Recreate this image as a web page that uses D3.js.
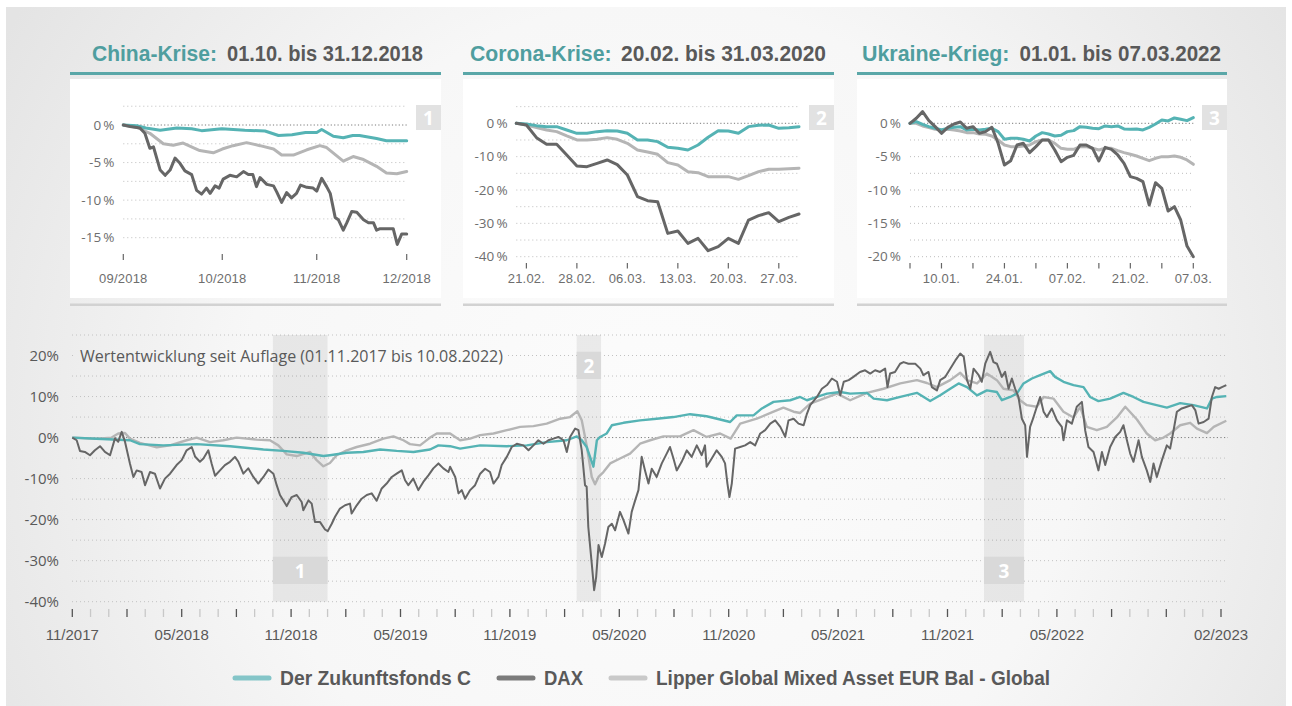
<!DOCTYPE html>
<html><head><meta charset="utf-8">
<script src="https://cdn.jsdelivr.net/npm/d3@7"></script>
<style>body{margin:0;background:#fff}svg{display:block}</style>
</head><body>
<svg id="c" width="1292" height="706"></svg>
<script>
// ---------------- DATA ----------------
const seriesNames = ["Der Zukunftsfonds C", "DAX", "Lipper Global Mixed Asset EUR Bal - Global"];

// Main chart: [months since 01.11.2017, performance %]
const mainFonds = [[0,0],[1.33,-0.3],[3.16,-0.65],[3.71,-1.6],[4.99,-1.9],[6.82,-1.6],[8.65,-2.1],[10.48,-2.9],[11.57,-3.25],[12.67,-3.7],[13.77,-4.5],[14.13,-4.3],[15.05,-3.7],[15.96,-3.5],[16.88,-2.9],[17.79,-3.25],[18.71,-3.5],[19.62,-2.9],[20.08,-1.9],[20.72,-2.1],[21.27,-2.7],[22.37,-1.9],[23.83,-2.1],[24.93,-1.9],[26.02,-1.1],[27.12,-0.65],[27.67,0.3],[27.94,-0.65],[28.21,-2.3],[28.49,-5.9],[28.58,-7.1],[28.77,-0.65],[28.95,0.15],[29.31,1.0],[29.59,3.0],[30.23,3.6],[31.14,4.2],[32.05,4.6],[32.97,5.0],[33.88,5.7],[34.79,5.2],[35.53,4.4],[36.08,3.8],[36.44,5.4],[37.36,5.4],[37.82,7.1],[38.46,8.7],[39.37,9.1],[39.92,9.9],[40.29,9.1],[40.84,9.9],[41.39,10.7],[42.12,11.1],[42.66,10.7],[43.58,10.9],[43.95,9.5],[44.68,9.1],[45.41,9.9],[46.32,10.9],[47.05,8.9],[47.6,10.3],[48.15,11.9],[48.61,13.2],[49.07,12.3],[49.62,10.3],[50.16,11.5],[50.71,11.1],[50.98,9.1],[51.44,9.9],[51.8,10.7],[52.17,13.2],[52.63,14.4],[53.08,15.2],[53.63,16.2],[53.9,14.8],[54.36,13.6],[54.91,12.8],[55.46,12.3],[55.82,9.9],[56.28,8.9],[56.92,9.5],[57.65,10.9],[58.2,9.9],[58.75,8.7],[59.3,8.1],[60.03,7.3],[60.76,8.4],[61.49,7.9],[62.23,7.1],[62.5,9.5],[62.78,9.9],[63.29,10.1]];

const mainDax = [[0,0],[0.24,-0.65],[0.42,-3.25],[0.69,-3.5],[0.97,-4.3],[1.24,-3.1],[1.52,-2.1],[1.79,-3.5],[2.07,-4.3],[2.34,-0.2],[2.52,-1.0],[2.71,1.4],[2.89,-1.0],[3.16,-6.3],[3.35,-9.6],[3.53,-8.0],[3.8,-8.4],[3.99,-11.6],[4.26,-8.4],[4.53,-8.8],[4.81,-12.4],[5.08,-10.0],[5.36,-8.8],[5.72,-6.7],[6.0,-5.5],[6.27,-3.1],[6.55,-2.3],[6.73,-4.6],[7.0,-5.9],[7.19,-5.1],[7.46,-3.1],[7.64,-6.3],[7.83,-9.3],[8.1,-8.0],[8.37,-6.7],[8.65,-5.9],[8.92,-4.7],[9.11,-5.9],[9.38,-8.8],[9.65,-7.5],[9.93,-9.6],[10.2,-11.2],[10.48,-9.6],[10.75,-7.8],[11.03,-8.8],[11.21,-11.6],[11.39,-14.0],[11.76,-16.7],[12.03,-14.5],[12.31,-14.0],[12.58,-15.7],[12.67,-17.7],[12.95,-15.3],[13.13,-16.1],[13.31,-20.6],[13.59,-20.6],[13.86,-22.4],[14.01,-22.8],[14.23,-21.0],[14.41,-19.3],[14.68,-17.3],[14.96,-16.5],[15.23,-16.1],[15.32,-18.5],[15.6,-16.5],[15.87,-14.9],[16.15,-14.0],[16.42,-13.6],[16.69,-15.4],[16.97,-12.4],[17.24,-11.2],[17.52,-9.6],[17.79,-8.8],[18.07,-8.0],[18.25,-10.4],[18.43,-11.6],[18.7,-10.0],[18.98,-12.8],[19.25,-10.8],[19.53,-9.2],[19.8,-7.5],[20.08,-6.3],[20.35,-7.5],[20.63,-8.4],[20.72,-7.1],[21.0,-9.6],[21.18,-13.6],[21.36,-12.8],[21.54,-14.9],[21.82,-12.8],[22.09,-11.6],[22.37,-8.8],[22.64,-7.6],[22.91,-8.4],[23.1,-11.2],[23.37,-9.6],[23.55,-6.7],[23.83,-4.7],[24.1,-2.3],[24.38,-1.5],[24.74,-1.9],[25.02,-3.1],[25.29,-1.9],[25.56,-0.65],[25.84,-1.5],[26.11,-0.65],[26.39,-0.25],[26.66,0.15],[26.94,-0.65],[27.12,-3.5],[27.3,0.15],[27.58,2.2],[27.76,1.8],[27.94,-3.1],[28.12,-11.6],[28.21,-12.0],[28.3,-21.8],[28.49,-30.7],[28.62,-37.2],[28.73,-34.0],[28.86,-26.2],[29.04,-29.1],[29.22,-25.8],[29.4,-21.8],[29.59,-21.0],[29.77,-22.6],[30.04,-18.1],[30.23,-20.1],[30.5,-23.4],[30.68,-18.1],[30.87,-15.3],[31.05,-12.8],[31.23,-4.7],[31.41,-8.0],[31.6,-11.2],[31.78,-7.6],[32.05,-9.6],[32.33,-6.3],[32.6,-3.9],[32.78,-2.3],[32.97,-5.1],[33.15,-8.0],[33.42,-5.9],[33.7,-3.1],[33.97,-4.7],[34.25,-1.9],[34.52,-4.3],[34.7,-1.9],[34.79,-7.1],[35.07,-5.1],[35.34,-3.1],[35.62,-4.7],[35.8,-6.3],[35.93,-11.2],[36.04,-14.5],[36.17,-11.2],[36.35,-2.7],[36.63,-2.3],[36.9,-1.9],[37.18,-1.1],[37.45,-1.9],[37.73,1.0],[38.0,1.8],[38.28,3.4],[38.55,4.2],[38.83,2.6],[39.1,0.2],[39.28,4.2],[39.56,4.6],[39.83,3.4],[40.11,3.0],[40.29,5.8],[40.47,7.9],[40.84,9.9],[41.11,11.9],[41.39,12.8],[41.66,14.4],[41.94,13.6],[42.12,10.3],[42.31,13.6],[42.58,14.0],[42.84,14.8],[43.2,16.0],[43.48,16.4],[43.76,15.6],[44.03,16.4],[44.3,16.0],[44.58,16.8],[44.71,12.3],[44.85,15.6],[45.12,16.0],[45.4,18.0],[45.59,18.4],[45.86,18.0],[46.23,18.0],[46.51,16.8],[46.68,15.2],[46.96,16.0],[47.14,12.3],[47.42,11.5],[47.6,14.0],[47.88,14.8],[48.15,16.8],[48.43,18.8],[48.7,20.5],[48.89,19.7],[49.07,14.0],[49.25,11.9],[49.43,16.8],[49.71,15.2],[49.88,13.6],[50.07,18.0],[50.34,20.9],[50.52,18.4],[50.71,18.0],[50.98,14.8],[51.16,16.0],[51.35,11.9],[51.53,14.4],[51.71,11.9],[51.89,9.9],[52.08,4.6],[52.26,3.0],[52.36,-4.7],[52.53,2.6],[52.72,5.0],[52.9,7.5],[53.08,9.9],[53.27,6.3],[53.45,5.0],[53.72,7.1],[54.0,4.2],[54.27,2.6],[54.36,-0.65],[54.55,4.2],[54.82,3.4],[55.09,7.5],[55.37,8.7],[55.55,1.8],[55.73,-2.3],[56.01,-3.5],[56.28,-8.0],[56.47,-3.5],[56.65,-6.7],[56.92,-2.3],[57.2,0.15],[57.47,1.4],[57.65,3.0],[57.84,-0.65],[58.02,-3.9],[58.2,-5.9],[58.48,-0.65],[58.66,-4.7],[58.93,-8.0],[59.12,-10.8],[59.3,-6.3],[59.48,-9.6],[59.76,-5.5],[60.03,-1.9],[60.21,-2.7],[60.4,1.8],[60.58,6.3],[60.85,7.1],[61.13,7.5],[61.4,7.9],[61.59,6.7],[61.77,3.4],[62.05,3.8],[62.32,4.6],[62.5,9.9],[62.68,12.3],[62.87,11.9],[63.05,12.3],[63.29,12.8]];

const mainLipper = [[0,0],[1.33,-0.3],[2.16,0],[2.52,1.0],[2.89,1.1],[3.16,-0.25],[3.71,-1.3],[4.63,-2.4],[5.36,-1.9],[6.27,-0.65],[6.82,0],[7.55,-1.1],[8.28,-0.65],[9.01,0],[10.11,-0.5],[10.84,-0.65],[11.3,-1.9],[11.76,-4.1],[12.31,-4.5],[13.04,-3.5],[13.4,-5.5],[13.77,-7.0],[14.13,-6.2],[14.5,-4.3],[15.05,-3.1],[15.6,-2.3],[16.33,-1.5],[17.06,-0.25],[17.61,0.3],[18.16,-0.65],[18.52,-1.6],[19.07,-1.9],[19.62,0],[19.99,1.0],[20.72,1.0],[21.27,-0.65],[21.82,-0.25],[22.37,0.6],[23.1,1.0],[23.83,1.8],[24.56,2.6],[25.29,2.8],[26.02,3.4],[26.76,4.6],[27.3,5.0],[27.7,6.4],[27.94,4.2],[28.21,-1.9],[28.49,-9.6],[28.67,-11.4],[28.86,-9.6],[29.13,-8.4],[29.5,-6.3],[30.04,-5.1],[30.59,-3.9],[31.14,-1.5],[31.69,-0.65],[32.42,0.3],[33.33,0.3],[34.07,1.8],[34.79,0.15],[35.53,1.0],[36.11,-0.25],[36.63,3.4],[37.54,4.6],[38.46,6.3],[39.0,7.3],[39.56,6.3],[39.92,6.0],[40.47,8.3],[41.2,9.5],[41.94,10.7],[42.66,9.1],[43.58,10.9],[44.49,11.9],[45.41,13.2],[46.32,14.0],[46.87,13.3],[47.42,12.3],[48.15,14.0],[48.7,15.8],[49.07,14.0],[49.62,13.2],[50.16,15.6],[50.71,14.0],[51.07,11.9],[51.62,11.5],[51.98,9.1],[52.35,7.9],[52.9,7.5],[53.27,9.9],[53.81,9.5],[54.36,6.3],[54.91,4.9],[55.28,7.5],[55.64,2.6],[56.19,1.8],[56.74,2.6],[57.29,4.9],[57.75,7.5],[58.39,4.4],[58.93,1.0],[59.39,-0.65],[59.85,0],[60.21,1.0],[60.76,3.0],[61.31,3.6],[61.68,2.2],[62.23,1.1],[62.6,2.6],[63.29,4.1]];

const mainYTicks = [20, 10, 0, -10, -20, -30, -40];
const mainXLabels = ["11/2017","05/2018","11/2018","05/2019","11/2019","05/2020","11/2020","05/2021","11/2021","05/2022","02/2023"];
const mainXLabelMonths = [0, 6, 12, 18, 24, 30, 36, 42, 48, 54, 63];
const crisisNumbers = ["1", "2", "3"];
const crisisStart = [11, 27.66, 50];   // 01.10.2018, 20.02.2020, 01.01.2022
const crisisEnd = [14, 29, 52.2];      // 31.12.2018, 31.03.2020, 07.03.2022

// Panel 1: China-Krise  [trading day, %]
const chinaFonds = [[0,0],[3,-0.1],[5,-0.4],[8.2,-0.7],[11.9,-0.4],[15.2,-0.5],[17.4,-0.75],[21.9,-0.5],[27,-0.7],[31.5,-0.8],[34.5,-1.4],[37.5,-1.3],[40.5,-1.0],[43,-1.0],[44.1,-0.6],[46.7,-1.5],[48.9,-1.7],[51,-1.4],[52.5,-1.4],[56.3,-1.8],[58.5,-2.1],[63,-2.1]];
const chinaDax = [[0,0],[1.5,-0.2],[3.7,-0.4],[4.8,-1.1],[5.9,-3.1],[6.7,-2.9],[8.2,-6.0],[9.3,-6.7],[10.4,-6.0],[11.5,-4.4],[12.6,-5.1],[13.7,-6.1],[15.2,-6.6],[16.3,-8.7],[17.4,-9.2],[18.5,-8.4],[19.3,-9.1],[20.4,-8.1],[21.3,-8.4],[22.2,-7.2],[23.7,-6.7],[25.2,-6.9],[26.7,-6.2],[27.8,-6.6],[28.8,-6.6],[29.6,-8.2],[30.4,-7.0],[31.9,-7.9],[33.4,-8.1],[34.1,-8.9],[35.2,-10.3],[36.3,-9.0],[37.4,-9.7],[38.5,-9.1],[39.4,-8.0],[40.8,-8.3],[42.2,-8.4],[43,-8.8],[44.1,-7.1],[45.2,-8.2],[46,-9.1],[47.1,-12.3],[47.8,-12.6],[48.9,-14.0],[49.7,-13.0],[50.8,-11.5],[51.9,-11.6],[53.4,-12.6],[54.5,-13.0],[55.6,-13.0],[56.3,-14.0],[57.1,-13.8],[60,-13.8],[60.9,-15.9],[61.9,-14.5],[63,-14.5]];
const chinaLipper = [[0,0],[3,-0.3],[5.9,-1.1],[8.9,-2.5],[11.1,-2.7],[13.3,-2.4],[17,-3.4],[20,-3.7],[22,-3.2],[24.4,-2.75],[27.4,-2.35],[30.4,-2.75],[33.4,-3.2],[35.2,-4.0],[37.8,-4.0],[40.8,-3.3],[43.7,-2.75],[45.2,-3.0],[48.9,-4.8],[51.1,-4.2],[53.4,-4.6],[56.3,-5.5],[58.5,-6.4],[60.8,-6.5],[63,-6.2]];
const chinaXLabels = ["09/2018","10/2018","11/2018","12/2018"];
const chinaXLabelDays = [0, 22, 43, 63];
const chinaYTicks = [0, -5, -10, -15];

// Panel 2: Corona-Krise, one value per trading day 20.02.–31.03.2020
const coronaFonds = [0,-0.2,-0.7,-1,-1,-2,-3,-3,-2.5,-2.2,-2.3,-3,-5,-5,-5.5,-7.2,-7.5,-8,-6.5,-4.2,-2.2,-2.3,-3,-1,-0.6,-0.5,-1.5,-1.3,-1];
const coronaDax = [0,-0.5,-4.3,-6.3,-6.3,-9.5,-12.8,-13,-12,-11,-12.4,-15.5,-22,-23.2,-23.5,-33,-32.3,-36,-34.5,-38.2,-37,-34.5,-36,-29,-27.7,-26.8,-29.5,-28.2,-27.2];
const coronaLipper = [0,-0.5,-1.3,-2,-2.5,-3.8,-5,-5,-4.8,-4.3,-4.8,-6,-8,-8.6,-9.3,-11.8,-12.5,-14.5,-14.8,-16,-16,-16,-16.8,-15.7,-14.5,-13.8,-13.8,-13.6,-13.5];
const coronaXLabels = ["21.02.","28.02.","06.03.","13.03.","20.03.","27.03."];
const coronaXLabelDays = [1, 6, 11, 16, 21, 26];
const coronaYTicks = [0, -10, -20, -30, -40];

// Panel 3: Ukraine-Krieg, one value per trading day 03.01.–07.03.2022
const ukraineFonds = [0,0.25,-0.15,-0.5,-0.75,-1,-0.75,-0.6,-0.5,-1,-0.9,-1,-0.9,-0.75,-1.25,-2.4,-2.25,-2.25,-2.4,-2.65,-1.9,-1.4,-1.6,-1.9,-1.8,-1.25,-1.1,-0.5,-0.6,-0.75,-0.8,-0.4,-0.5,-0.4,-0.85,-0.9,-0.85,-1,-0.6,-0.1,0.5,0.35,0.8,0.6,0.4,0.85];
const ukraineDax = [0,0.75,1.75,0.4,-0.5,-1.5,-0.6,-0.1,0.2,-0.75,-0.5,-1.5,-1.25,-0.6,-3,-6.25,-5.6,-3.25,-3,-4.4,-3.5,-2.5,-2.5,-4,-5.75,-5.1,-4.8,-3.25,-3.25,-3.75,-5.65,-3.6,-3.9,-4.75,-6,-8,-8.25,-8.75,-12.25,-8.9,-9.75,-13.15,-12.5,-14.5,-18.4,-20];
const ukraineLipper = [0,0,-0.4,-0.65,-0.9,-1,-0.9,-1,-1.15,-1.4,-1.4,-1.6,-1.65,-1.9,-2.5,-3.25,-3.5,-3.5,-3.4,-3.25,-2.75,-2.5,-2.5,-3,-3.75,-3.9,-3.9,-3.5,-3.5,-3.75,-4,-3.75,-3.75,-4.1,-4.4,-4.65,-4.9,-5.25,-5.6,-5.25,-5,-5,-4.9,-5.1,-5.5,-6.15];
const ukraineXLabels = ["10.01.","24.01.","07.02.","21.02.","07.03."];
const ukraineXLabelDays = [5, 15, 25, 35, 45];
const ukraineYTicks = [0, -5, -10, -15, -20];

// ---------------- STYLE ----------------
const colFonds = "#55b3b4", colDax = "#666666", colLipper = "#b5b5b5";
const teal = "#4f9e9f", darkText = "#595959", axisText = "#6e6e6e";
const FONT = "'Open Sans', 'Noto Sans', sans-serif";
const NARROW = "'Liberation Sans Narrow', 'Liberation Sans', 'Open Sans', sans-serif";

const svg = d3.select("#c").style("font-family", FONT);
const defs = svg.append("defs");
const rg = defs.append("radialGradient").attr("id", "bg").attr("gradientUnits", "userSpaceOnUse")
  .attr("cx", 660).attr("cy", 420).attr("r", 760);
rg.append("stop").attr("offset", "0%").attr("stop-color", "#fcfcfc");
rg.append("stop").attr("offset", "55%").attr("stop-color", "#f7f7f7");
rg.append("stop").attr("offset", "100%").attr("stop-color", "#e4e4e4");

svg.append("rect").attr("width", 1292).attr("height", 706).attr("fill", "#fff");
svg.append("rect").attr("x", 6).attr("y", 7).attr("width", 1280).attr("height", 699).attr("fill", "url(#bg)");

// ---------------- SMALL PANELS ----------------
function panel(cfg) {
  const g = svg.append("g");
  g.append("text").attr("x", cfg.t1x).attr("y", 61).attr("fill", teal)
    .attr("font-size", 22).attr("font-weight", 700).attr("font-family", NARROW)
    .attr("textLength", cfg.t1w).attr("lengthAdjust", "spacingAndGlyphs").text(cfg.t1);
  g.append("text").attr("x", cfg.t2x).attr("y", 61).attr("fill", darkText)
    .attr("font-size", 22).attr("font-weight", 700).attr("font-family", NARROW)
    .attr("textLength", cfg.t2w).attr("lengthAdjust", "spacingAndGlyphs").text(cfg.t2);
  g.append("rect").attr("x", cfg.left).attr("y", 72).attr("width", cfg.right - cfg.left).attr("height", 3).attr("fill", "#5aa7a8");
  g.append("rect").attr("x", cfg.left).attr("y", 79).attr("width", cfg.right - cfg.left).attr("height", 219).attr("fill", "#fff");
  g.append("rect").attr("x", cfg.left).attr("y", 303.5).attr("width", cfg.right - cfg.left).attr("height", 2.5).attr("fill", "#d2d2d2");

  const x = d3.scaleLinear().domain(cfg.xDomain).range(cfg.xRange);
  const y = d3.scaleLinear().domain([0, cfg.yRef]).range(cfg.yRange);

  g.selectAll(".gl").data(cfg.grid).enter().append("line")
    .attr("x1", cfg.xRange[0]).attr("x2", cfg.xRange[1])
    .attr("y1", d => y(d)).attr("y2", d => y(d))
    .attr("stroke", d => d === 0 ? "#7a7a7a" : "#bdbdbd").attr("stroke-width", 1)
    .attr("stroke-dasharray", d => d === 0 ? "1.2,2.2" : "1,3");
  g.selectAll(".yl").data(cfg.yTicks).enter().append("text")
    .attr("x", cfg.yLabelX).attr("y", d => y(d)).attr("dy", "0.35em")
    .attr("text-anchor", "end").attr("font-size", 13.5).attr("fill", axisText)
    .text(d => d + "\u2009%");
  g.selectAll(".xt").data(cfg.tickDays).enter().append("line")
    .attr("x1", d => x(d)).attr("x2", d => x(d))
    .attr("y1", cfg.tickY[0]).attr("y2", cfg.tickY[1])
    .attr("stroke", "#666").attr("stroke-width", 1.2);
  g.selectAll(".xl").data(cfg.xLabels).enter().append("text")
    .attr("x", (d, i) => x(cfg.xLabelDays[i])).attr("y", 283)
    .attr("text-anchor", "middle").attr("font-size", 13).attr("fill", axisText)
    .attr("font-family", NARROW).attr("letter-spacing", 0.2)
    .text(d => d);
  g.append("rect").attr("x", cfg.right - 25).attr("y", 105).attr("width", 25).attr("height", 25).attr("fill", "#e2e2e2");
  g.append("text").attr("x", cfg.right - 12.5).attr("y", 124.5).attr("text-anchor", "middle")
    .attr("font-size", 19).attr("font-weight", 700).attr("fill", "#fff").text(cfg.num);

  const line = d3.line().x(d => x(d[0])).y(d => y(d[1]));
  cfg.series.forEach(s => {
    g.append("path").datum(s.data).attr("d", line).attr("fill", "none")
      .attr("stroke", s.color).attr("stroke-width", 3).attr("stroke-linejoin", "round").attr("stroke-linecap", "round");
  });
}
const idx = arr => arr.map((v, i) => [i, v]);

panel({
  t1: "China-Krise:", t1x: 92, t1w: 125, t2: "01.10. bis 31.12.2018", t2x: 227, t2w: 196,
  left: 70, right: 441, xDomain: [0, 63], xRange: [123.3, 406.7], yRef: -15, yRange: [125, 237.7],
  grid: d3.range(2.5, -15.01, -2.5), yTicks: chinaYTicks, yLabelX: 114.5,
  tickDays: chinaXLabelDays, tickY: [254, 260], xLabels: chinaXLabels, xLabelDays: chinaXLabelDays, num: crisisNumbers[0],
  series: [{data: chinaLipper, color: colLipper}, {data: chinaFonds, color: colFonds}, {data: chinaDax, color: colDax}]
});
panel({
  t1: "Corona-Krise:", t1x: 470, t1w: 141.5, t2: "20.02. bis 31.03.2020", t2x: 621, t2w: 205,
  left: 463, right: 834, xDomain: [0, 28], xRange: [516.3, 799], yRef: -40, yRange: [123.3, 256.7],
  grid: d3.range(5, -40.01, -5), yTicks: coronaYTicks, yLabelX: 507.7,
  tickDays: coronaXLabelDays, tickY: [263, 268.5], xLabels: coronaXLabels, xLabelDays: coronaXLabelDays, num: crisisNumbers[1],
  series: [{data: idx(coronaLipper), color: colLipper}, {data: idx(coronaFonds), color: colFonds}, {data: idx(coronaDax), color: colDax}]
});
panel({
  t1: "Ukraine-Krieg:", t1x: 862, t1w: 147.5, t2: "01.01. bis 07.03.2022", t2x: 1019.5, t2w: 201.5,
  left: 857, right: 1227, xDomain: [0, 45], xRange: [910, 1193.3], yRef: -20, yRange: [123.3, 256.7],
  grid: d3.range(2.5, -20.01, -2.5), yTicks: ukraineYTicks, yLabelX: 901,
  tickDays: d3.range(0, 46, 5), tickY: [263, 268.5], xLabels: ukraineXLabels, xLabelDays: ukraineXLabelDays, num: crisisNumbers[2],
  series: [{data: idx(ukraineLipper), color: colLipper}, {data: idx(ukraineFonds), color: colFonds}, {data: idx(ukraineDax), color: colDax}]
});

// ---------------- MAIN CHART ----------------
const mx = d3.scaleLinear().domain([0, 63]).range([72.3, 1221]);
const my = d3.scaleLinear().domain([25, -40]).range([335, 601.7]);
const mg = svg.append("g");

// gridlines
mg.selectAll(".mgl").data(d3.range(25, -40.01, -5)).enter().append("line")
  .attr("x1", 72).attr("x2", 1228).attr("y1", d => my(d)).attr("y2", d => my(d))
  .attr("stroke", d => d === 0 ? "#7d7d7d" : "#c2c2c2").attr("stroke-width", 1)
  .attr("stroke-dasharray", d => d === 0 ? "1.2,2.4" : "1,3");
// title background hides the gridline under the title
mg.append("rect").attr("x", 75).attr("y", 343).attr("width", 433).attr("height", 25).attr("fill", "url(#bg)");
// crisis bands (translucent, gridlines show through)
crisisStart.forEach((s, i) => {
  mg.append("rect").attr("x", mx(s)).attr("y", 335).attr("width", mx(crisisEnd[i]) - mx(s))
    .attr("height", 601.7 - 335).attr("fill", "#000").attr("fill-opacity", 0.065);
});
// number boxes
const boxY = [556.7, 351.7, 556.7];
crisisStart.forEach((s, i) => {
  const w = mx(crisisEnd[i]) - mx(s);
  mg.append("rect").attr("x", mx(s)).attr("y", boxY[i]).attr("width", w).attr("height", 27.3).attr("fill", "#d9d9d9");
  mg.append("text").attr("x", mx(s) + w / 2).attr("y", boxY[i] + 21).attr("text-anchor", "middle")
    .attr("font-size", 19).attr("font-weight", 700).attr("fill", "#fff").text(crisisNumbers[i]);
});
mg.append("text").attr("x", 80).attr("y", 361.5).attr("font-size", 16).attr("fill", darkText)
  .attr("textLength", 423).attr("lengthAdjust", "spacingAndGlyphs")
  .text("Wertentwicklung  seit Auflage  (01.11.2017 bis 10.08.2022)");
// y labels
mg.selectAll(".myl").data(mainYTicks).enter().append("text")
  .attr("x", 59).attr("y", d => my(d)).attr("dy", "0.36em").attr("text-anchor", "end")
  .attr("font-size", 15).attr("fill", darkText).text(d => d + "%");
// x ticks
mg.selectAll(".mxt").data(d3.range(0, 64)).enter().append("line")
  .attr("x1", d => mx(d)).attr("x2", d => mx(d)).attr("y1", 609).attr("y2", 617)
  .attr("stroke", d => d % 3 === 0 ? "#555" : "#c8c8c8").attr("stroke-width", 1.3);
mg.selectAll(".mxl").data(mainXLabels).enter().append("text")
  .attr("x", (d, i) => mx(mainXLabelMonths[i])).attr("y", 640).attr("text-anchor", "middle")
  .attr("font-size", 15).attr("fill", darkText).attr("font-family", NARROW).text(d => d);

// lines
const mline = d3.line().x(d => mx(d[0])).y(d => my(d[1]));
[[mainLipper, colLipper, 2.4], [mainFonds, colFonds, 2.4], [mainDax, colDax, 2]].forEach(([data, c, w]) => {
  mg.append("path").datum(data).attr("d", mline).attr("fill", "none").attr("stroke", c)
    .attr("stroke-width", w).attr("stroke-linejoin", "round");
});

// ---------------- LEGEND ----------------
const legend = [
  {name: seriesNames[0], color: "#84c5c8", x1: 235, x2: 269, tx: 280, tw: 191},
  {name: seriesNames[1], color: "#7b7b7b", x1: 499, x2: 533, tx: 544, tw: 39},
  {name: seriesNames[2], color: "#c9c9c9", x1: 611, x2: 645, tx: 656, tw: 394}
];
const lg = svg.append("g");
legend.forEach(l => {
  lg.append("line").attr("x1", l.x1).attr("x2", l.x2).attr("y1", 678).attr("y2", 678)
    .attr("stroke", l.color).attr("stroke-width", 5).attr("stroke-linecap", "round");
  lg.append("text").attr("x", l.tx).attr("y", 685).attr("font-size", 20).attr("font-weight", 700)
    .attr("fill", darkText).attr("font-family", NARROW)
    .attr("textLength", l.tw).attr("lengthAdjust", "spacingAndGlyphs").text(l.name);
});
</script>
</body></html>
